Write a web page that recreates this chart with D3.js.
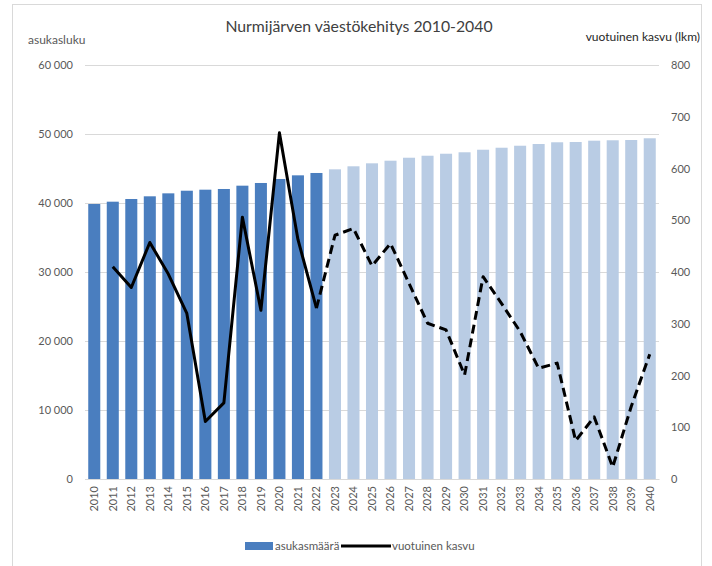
<!DOCTYPE html>
<html>
<head>
<meta charset="utf-8">
<script src="https://cdn.jsdelivr.net/npm/d3@7"></script>
<style>
  body { margin: 0; background: #fff; }
  svg { display: block; }
</style>
</head>
<body>
<svg id="chart" width="712" height="566"></svg>
<script>
const years = d3.range(2010, 2041).map(String);
const population = [39855, 40190, 40580, 40970, 41400, 41780, 41930, 42030, 42510, 42900, 43480, 44010, 44350,
  44880, 45320, 45750, 46130, 46560, 46850, 47140, 47350, 47720, 48010, 48300, 48550, 48800, 48840, 49030, 49090, 49130, 49380];
const growth = [null, 410, 370, 457, 396, 320, 111, 147, 506, 326, 669, 463, 330,
  471, 484, 412, 455, 378, 301, 288, 201, 391, 339, 285, 214, 224, 74, 120, 23, 140, 241];
const lastActual = "2022";
const leftTicks = [0, 10000, 20000, 30000, 40000, 50000, 60000];
const rightTicks = [0, 100, 200, 300, 400, 500, 600, 700, 800];
const title = "Nurmijärven väestökehitys 2010-2040";
const leftTitle = "asukasluku";
const rightTitle = "vuotuinen kasvu (lkm)";
const legendBar = "asukasmäärä";
const legendLine = "vuotuinen kasvu";

const svg = d3.select("#chart");
const font = "Lato, 'Open Sans', sans-serif";
const m = { left: 85, right: 659, top: 65, bottom: 479 };

// frame
svg.append("rect").attr("x", 12.5).attr("y", 4.5).attr("width", 689).attr("height", 580)
  .attr("fill", "none").attr("stroke", "#d9d9d9");

const x = d3.scaleBand().domain(years).range([m.left, m.right]).paddingInner(0.35).paddingOuter(0.175);
const yL = d3.scaleLinear().domain([0, 60000]).range([m.bottom, m.top]);
const yR = d3.scaleLinear().domain([0, 800]).range([m.bottom, m.top]);
const loc = d3.formatLocale({ decimal: ",", thousands: " ", grouping: [3], currency: ["", ""] });
const fmt = loc.format(",");

// gridlines
svg.append("g").selectAll("line").data(leftTicks).join("line")
  .attr("x1", m.left).attr("x2", m.right)
  .attr("y1", d => Math.round(yL(d)) + 0.5).attr("y2", d => Math.round(yL(d)) + 0.5)
  .attr("stroke", "#d9d9d9").attr("stroke-width", 1);

// left axis
const axL = svg.append("g").attr("transform", `translate(${m.left},0)`)
  .call(d3.axisLeft(yL).tickValues(leftTicks).tickFormat(fmt).tickSize(0).tickPadding(12));
axL.select(".domain").remove();
axL.selectAll("text").attr("font-family", font).attr("font-size", 11).attr("fill", "#595959");

// right axis
const axR = svg.append("g").attr("transform", `translate(${m.right},0)`)
  .call(d3.axisRight(yR).tickValues(rightTicks).tickSize(0).tickPadding(12));
axR.select(".domain").remove();
axR.selectAll("text").attr("font-family", font).attr("font-size", 11).attr("fill", "#595959");

// bars
svg.append("g").selectAll("rect").data(years).join("rect")
  .attr("x", d => x(d)).attr("width", x.bandwidth())
  .attr("y", (d, i) => yL(population[i])).attr("height", (d, i) => yL(0) - yL(population[i]))
  .attr("fill", d => (+d <= +lastActual ? "#4a7ebf" : "#b9cce4"));

// x axis labels
const axB = svg.append("g").attr("transform", `translate(0,${m.bottom})`)
  .call(d3.axisBottom(x).tickSize(0).tickPadding(0));
axB.select(".domain").attr("stroke", "#d9d9d9");
axB.selectAll("text").attr("font-family", font).attr("font-size", 11).attr("fill", "#595959")
  .attr("transform", "rotate(-90)").attr("text-anchor", "end").attr("dy", "0.35em").attr("x", -7).attr("y", 0);

// growth line
const pts = years.map((d, i) => ({ year: d, v: growth[i] })).filter(p => p.v !== null);
const line = d3.line().x(p => x(p.year) + x.bandwidth() / 2).y(p => yR(p.v));
const solid = pts.filter(p => +p.year <= +lastActual);
const dashed = pts.filter(p => +p.year >= +lastActual);
svg.append("path").attr("d", line(solid)).attr("fill", "none").attr("stroke", "#000")
  .attr("stroke-width", 3).attr("stroke-linejoin", "round");
svg.append("path").attr("d", line(dashed)).attr("fill", "none").attr("stroke", "#000")
  .attr("stroke-width", 3).attr("stroke-dasharray", "9,5").attr("stroke-linejoin", "round");

// titles
svg.append("text").attr("x", 359).attr("y", 32).attr("text-anchor", "middle")
  .attr("font-family", font).attr("font-size", 15.8).attr("fill", "#404040").text(title);
svg.append("text").attr("x", 28).attr("y", 44)
  .attr("font-family", font).attr("font-size", 12).attr("fill", "#595959").text(leftTitle);
svg.append("text").attr("x", 700).attr("y", 41).attr("text-anchor", "end")
  .attr("font-family", font).attr("font-size", 12).attr("fill", "#262626").text(rightTitle);

// legend
const lg = svg.append("g");
lg.append("rect").attr("x", 245).attr("y", 542).attr("width", 28).attr("height", 8).attr("fill", "#4a7ebf");
lg.append("text").attr("x", 275).attr("y", 546).attr("dy", "0.35em")
  .attr("font-family", font).attr("font-size", 11.5).attr("fill", "#595959").text(legendBar);
lg.append("line").attr("x1", 341).attr("x2", 391).attr("y1", 546).attr("y2", 546)
  .attr("stroke", "#000").attr("stroke-width", 3);
lg.append("text").attr("x", 392).attr("y", 546).attr("dy", "0.35em")
  .attr("font-family", font).attr("font-size", 11.5).attr("fill", "#595959").text(legendLine);
</script>
</body>
</html>
